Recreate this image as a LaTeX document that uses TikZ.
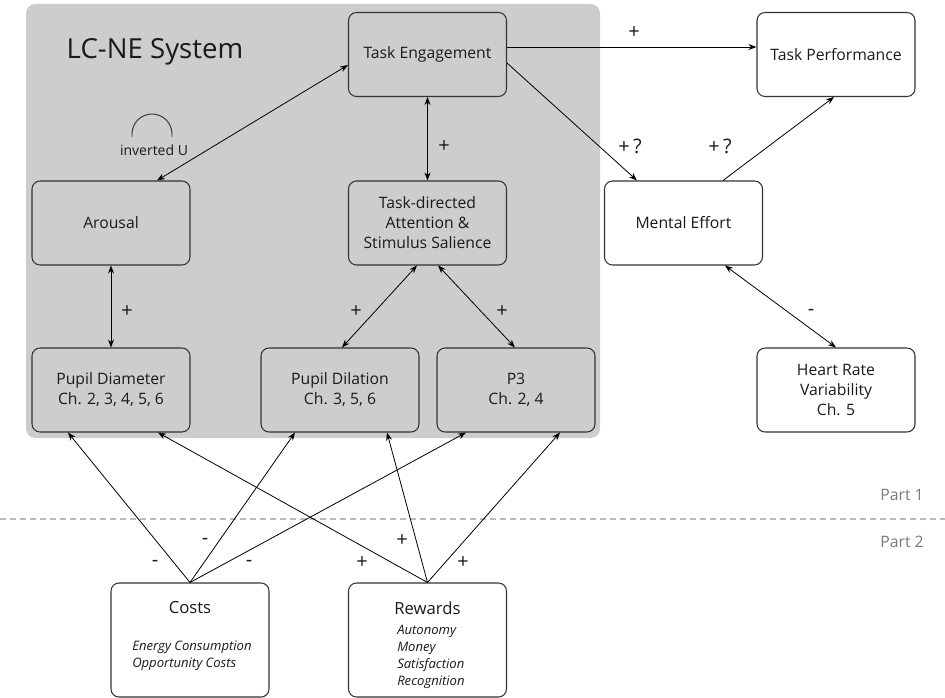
\documentclass[tikz,border=0pt]{standalone}
\usepackage{fontspec}
\setmainfont{Open Sans}
\usetikzlibrary{arrows.meta}
\definecolor{regiongray}{HTML}{CDCDCD}
\definecolor{edgegray}{HTML}{333333}
\definecolor{txt}{HTML}{1A1A1A}
\definecolor{parttxt}{HTML}{7A7A7A}
\definecolor{dashgray}{HTML}{BBBBBB}
\tikzset{
  box/.style={draw=edgegray, line width=0.8pt, rounded corners=6pt, minimum width=118.5pt, minimum height=63pt, align=center, text=txt, font=\fontsize{11.8}{15}\selectfont, inner sep=0pt},
  graybox/.style={box, fill=regiongray},
  whitebox/.style={box, fill=white},
  lab/.style={text=txt, font=\fontsize{15}{17}\selectfont, inner sep=0pt},
  conn/.style={line width=0.6pt, draw=black, -{Stealth[length=6pt,width=4.5pt]}},
  biconn/.style={line width=0.6pt, draw=black, {Stealth[length=6pt,width=4.5pt]}-{Stealth[length=6pt,width=4.5pt]}},
  itext/.style={text=txt, font=\fontsize{9.8}{12.75}\selectfont\itshape, align=left, inner sep=0pt},
  parttext/.style={text=parttxt, font=\fontsize{11.8}{13}\selectfont, inner sep=0pt}
}
\begin{document}
\begin{tikzpicture}[x=0.75pt,y=-0.75pt]
\useasboundingbox (0,0) rectangle (945,698);
% LC-NE region
\fill[regiongray, rounded corners=7pt] (26,4) rectangle (600,438);
\node[text=txt, font=\fontsize{20.7}{24}\selectfont, inner sep=0pt] (lcne) at (155,52) {LC-NE System};
% dashed separator
\coordinate (dl) at (0,519);
\coordinate (dr) at (945,519);
\draw[dashgray, line width=0.9pt, dash pattern=on 4.5pt off 3pt] (dl) -- (dr);
\node[parttext] (p1) at (902,495) {Part 1};
\node[parttext] (p2) at (902,542) {Part 2};
% nodes
\node[graybox] (TE) at (427.5,54.5) {Task Engagement};
\node[whitebox] (TP) at (836,54.5) {Task Performance};
\node[graybox] (AR) at (111,223) {Arousal};
\node[graybox] (TDA) at (427.5,223) {Task-directed\\Attention \&\\Stimulus Salience};
\node[whitebox] (ME) at (683.5,223) {Mental Effort};
\node[graybox] (PD) at (111,390) {Pupil Diameter\\Ch. 2, 3, 4, 5, 6};
\node[graybox] (PDil) at (340,390) {Pupil Dilation\\Ch. 3, 5, 6};
\node[graybox] (P3) at (516,390) {P3\\Ch. 2, 4};
\node[whitebox] (HRV) at (836,390) {Heart Rate\\Variability\\Ch. 5};
\node[whitebox, minimum height=85.5pt] (CO) at (190,640) {};
\node[whitebox, minimum height=85.5pt] (RE) at (427.5,640) {};
\node[lab, font=\fontsize{12.5}{14}\selectfont] (COt) at (190,608) {Costs};
\node[lab, font=\fontsize{12.5}{14}\selectfont] (REt) at (427.5,608) {Rewards};
\node[itext, anchor=west] (COi) at (132,655.5) {Energy Consumption\\Opportunity Costs};
\node[itext, anchor=west] (REi) at (397,657) {Autonomy\\Money\\Satisfaction\\Recognition};
% inverted U
\coordinate (ua) at (132,137);
\draw[line width=0.7pt, edgegray] (ua) -- ++(0,-3) arc[start angle=180, end angle=360, radius=20] -- ++(0,3);
\node[lab, font=\fontsize{10.5}{12}\selectfont] (inv) at (154,150) {inverted U};
% connectors
\draw[biconn] ([yshift=-7.9pt]TE.west) -- ([xshift=34.5pt]AR.north);
\draw[biconn] (TE.south) -- (TDA.north);
\node[lab] (l1) at (444,147) {+};
\draw[conn] ([yshift=5.6pt]TE.east) -- ([yshift=5.6pt]TP.west);
\node[lab] (l2) at (634,33) {+};
\draw[conn] ([yshift=-6.4pt]TE.east) -- ([xshift=-34.9pt]ME.north);
\node[lab] (l3) at (630,146) {+\,?};
\draw[conn] ([xshift=29.6pt]ME.north) -- ([xshift=-1.5pt]TP.south);
\node[lab] (l4) at (720,146) {+\,?};
\draw[biconn] ([xshift=31.1pt]ME.south) -- (HRV.north);
\node[lab] (l5) at (811,312) {-};
\draw[biconn] (AR.south) -- (PD.north);
\node[lab] (l6) at (127,312) {+};
\draw[biconn] ([xshift=-7.9pt]TDA.south) -- ([xshift=1.5pt]PDil.north);
\node[lab] (l7) at (356,312) {+};
\draw[biconn] ([xshift=7.9pt]TDA.south) -- ([xshift=-0.8pt]P3.north);
\node[lab] (l8) at (502,312) {+};
% costs
\draw[conn] (CO.north) -- ([xshift=-32.25pt]PD.south);
\draw[conn] (CO.north) -- ([xshift=-33.75pt]PDil.south);
\draw[conn] (CO.north) -- ([xshift=-37.5pt]P3.south);
\node[lab] (c1) at (155,563) {-};
\node[lab] (c2) at (205,541) {-};
\node[lab] (c3) at (249,563) {-};
% rewards
\draw[conn] (RE.north) -- ([xshift=35.25pt]PD.south);
\draw[conn] (RE.north) -- ([xshift=35.25pt]PDil.south);
\draw[conn] (RE.north) -- ([xshift=33pt]P3.south);
\node[lab] (r1) at (362,563) {+};
\node[lab] (r2) at (402,541) {+};
\node[lab] (r3) at (463,563) {+};
\end{tikzpicture}
\end{document}
